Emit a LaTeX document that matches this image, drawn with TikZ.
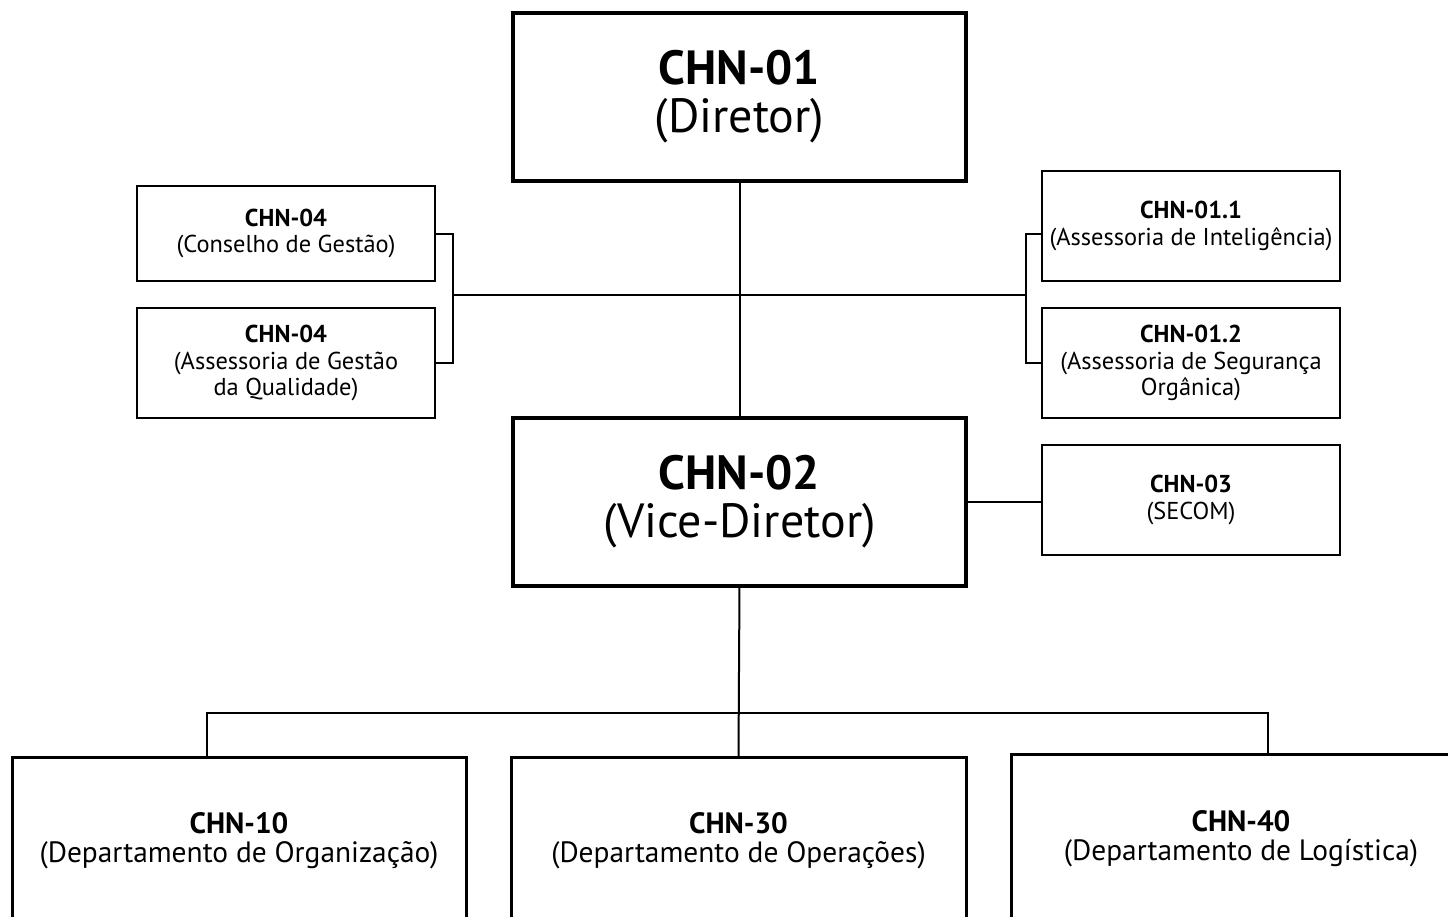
\documentclass[tikz,border=0pt]{standalone}
\usepackage{fontspec}
\setmainfont{PT Sans}
\tikzset{
  box/.style={draw, line width=1.2pt, align=center, anchor=north west, inner sep=0pt, outer sep=0pt},
  bigbox/.style={box, line width=1.6pt, font=\fontsize{24}{24}\selectfont},
  smallbox/.style={box, font=\fontsize{12.2}{13.3}\selectfont},
  depbox/.style={box, line width=1.5pt, font=\fontsize{14.7}{14.4}\selectfont},
  link/.style={line width=1pt}
}
\begin{document}
\begin{tikzpicture}[x=0.5pt,y=-0.5pt]
\clip (0,0) rectangle (1448,917);
% direction
\node[bigbox, minimum width=226.5pt, minimum height=84pt] (dir) at (513,13) {\textbf{CHN-01}\\(Diretor)};
\node[bigbox, minimum width=226.5pt, minimum height=84pt] (vdir) at (513,418) {\textbf{CHN-02}\\(Vice-Diretor)};
% assessorias
\node[smallbox, minimum width=149pt, minimum height=47.5pt] (cons) at (137,186) {\textbf{CHN-04}\\(Conselho de Gestão)};
\node[smallbox, minimum width=149pt, minimum height=55pt] (agq) at (137,308) {\textbf{CHN-04}\\(Assessoria de Gestão\\da Qualidade)};
\node[smallbox, minimum width=149pt, minimum height=55pt] (aint) at (1042,171) {\textbf{CHN-01.1}\\(Assessoria de Inteligência)};
\node[smallbox, minimum width=149pt, minimum height=55pt] (aseg) at (1042,308) {\textbf{CHN-01.2}\\(Assessoria de Segurança\\Orgânica)};
\node[smallbox, minimum width=149pt, minimum height=55pt] (secom) at (1042,445) {\textbf{CHN-03}\\(SECOM)};
% departamentos
\node[depbox, minimum width=227pt, minimum height=84pt] (dorg) at (12,757) {\textbf{CHN-10}\\(Departamento de Organização)};
\node[depbox, minimum width=227.5pt, minimum height=84pt] (dop) at (511,757) {\textbf{CHN-30}\\(Departamento de Operações)};
\node[depbox, minimum width=230pt, minimum height=85pt] (dlog) at (1011,754) {\textbf{CHN-40}\\(Departamento de Logística)};

\coordinate (lb) at (453,295);
\coordinate (rb) at (1026,295);
\coordinate (bl) at (207,713);
\coordinate (br) at (1268,713);

\draw[link] (dir.south) -- (vdir.north);
\draw[link] (lb) -- (rb);
\draw[link] (cons.east) -| (lb) |- (agq.east);
\draw[link] (aint.west |- cons.east) -| (rb) |- (aseg.west |- agq.east);
\draw[link] (vdir.east) -- (secom.west |- vdir.east);
\draw[link] (vdir.south) -- (dop.north);
\draw[link] (bl |- dorg.north) -- (bl) -- (br) -- (br |- dlog.north);
\end{tikzpicture}
\end{document}
